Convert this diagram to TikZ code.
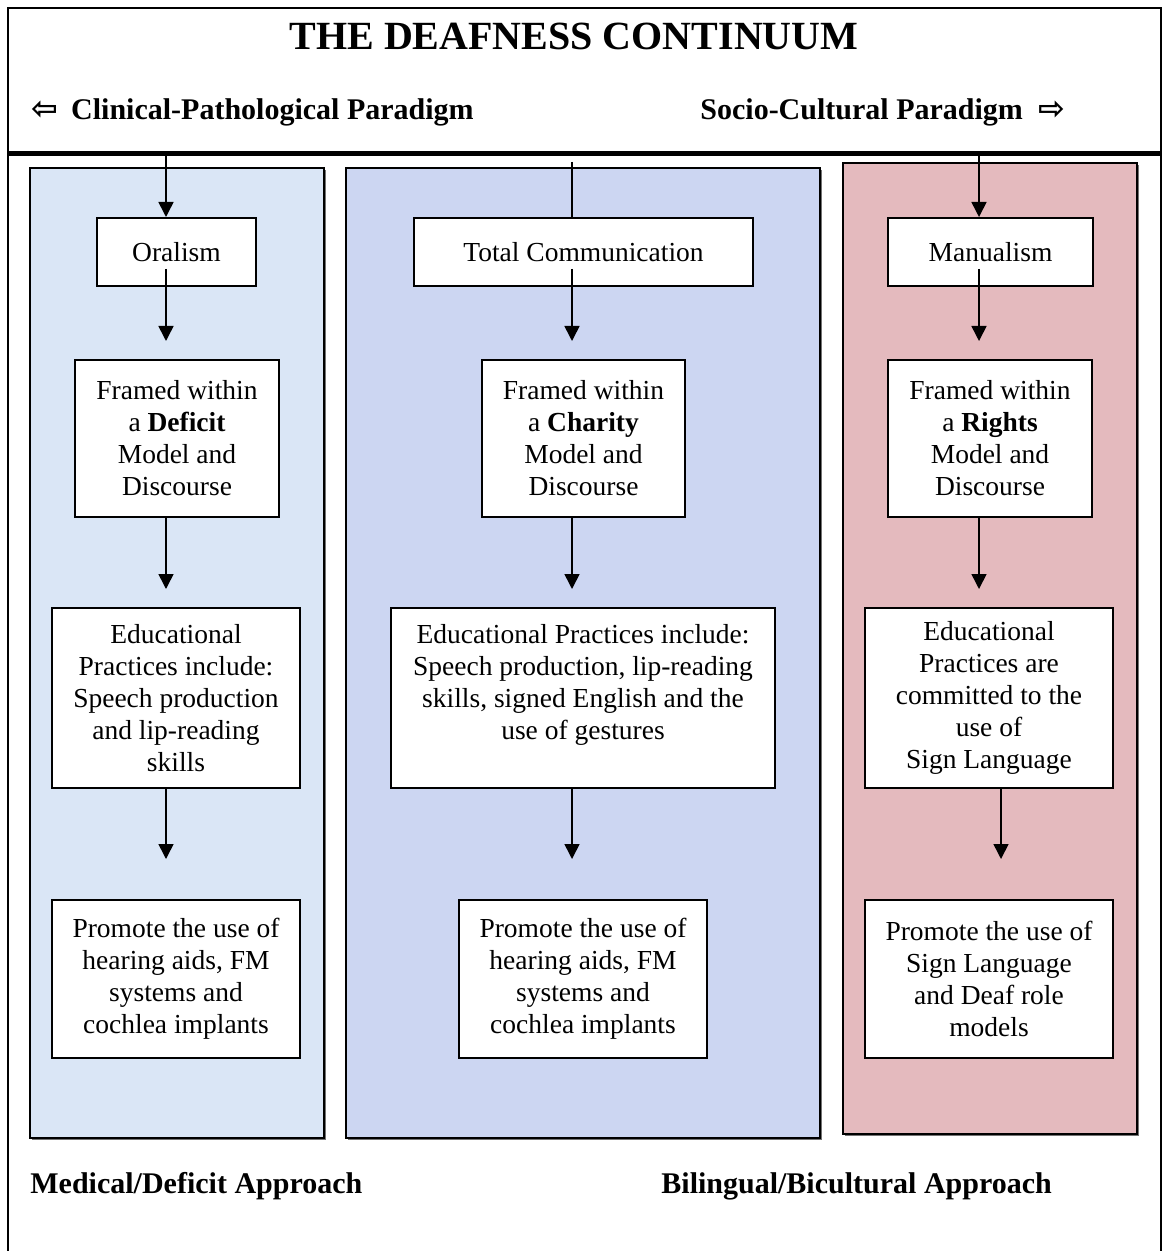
\documentclass[tikz,border=0pt]{standalone}
\usepackage{fontspec}
\setmainfont{Liberation Serif}
\newfontfamily\arrowfont{DejaVu Sans}
\usetikzlibrary{arrows.meta,calc,shadows}
\definecolor{oralblue}{RGB}{218,230,246}
\definecolor{totalblue}{RGB}{204,214,242}
\definecolor{manupink}{RGB}{228,186,190}
\tikzset{
  stage/.style={draw, fill=white, line width=1pt, align=center, inner sep=0pt,
    font=\fontsize{13.75}{16}\selectfont},
  flow/.style={-{Triangle[width=7.5pt,length=7.5pt]}, line width=0.8pt},
  panel/.style={draw, line width=1pt,
    drop shadow={shadow xshift=0.8pt, shadow yshift=-0.8pt, fill=black!55, opacity=1}},
  heading/.style={font=\fontsize{15}{18}\bfseries\selectfont, inner sep=0pt, anchor=base west}
}
\begin{document}
\begin{tikzpicture}[x=0.5pt, y=-0.5pt]
\useasboundingbox (0,0) rectangle (1164,1251);
% Frame and header line
\draw[line width=1.3pt] (8,1260) -- (8,8) -- (1161,8) -- (1161,1260);
\draw[line width=2.5pt] (8,153.5) -- (1160,153.5);
% Title and the two paradigms
\node[font=\fontsize{20}{24}\bfseries\selectfont, inner sep=0pt, anchor=base] (title) at (574,50) {THE DEAFNESS CONTINUUM};
\node[heading] (clin) at (31,120) {{\arrowfont\fontsize{16}{18}\selectfont ⇦}\hspace{6.5pt}Clinical-Pathological Paradigm};
\node[heading] (soci) at (700,120) {Socio-Cultural Paradigm\hspace{8pt}{\arrowfont\fontsize{16}{18}\selectfont ⇨}};
% The three coloured columns
\draw[panel, fill=oralblue] (30,168) rectangle (324,1138);
\draw[panel, fill=totalblue] (346,168) rectangle (820,1138);
\draw[panel, fill=manupink] (843,163) rectangle (1137,1134);
% Left column
\node[stage, minimum width=79.5pt, minimum height=34pt] (oral) at (176.5,252) {Oralism};
\node[stage, minimum width=102pt, minimum height=78.5pt] (defi) at (177,438.5) {Framed within\\ a \textbf{Deficit}\\ Model and\\ Discourse};
\node[stage, minimum width=124pt, minimum height=90pt] (eduA) at (176,698) {Educational\\ Practices include:\\ Speech production\\ and lip-reading\\ skills};
\node[stage, minimum width=124pt, minimum height=79pt] (promA) at (176,979) {Promote the use of\\ hearing aids, FM\\ systems and\\ cochlea implants};
% Middle column
\node[stage, minimum width=169.5pt, minimum height=34pt] (totc) at (583.5,252) {Total Communication};
\node[stage, minimum width=101.5pt, minimum height=78.5pt] (char) at (583.5,438.5) {Framed within\\ a \textbf{Charity}\\ Model and\\ Discourse};
\node[stage, minimum width=192pt, minimum height=90pt] (eduB) at (583,698) {Educational Practices include:\\ Speech production, lip-reading\\ skills, signed English and the\\ use of gestures\\ \mbox{}};
\node[stage, minimum width=124pt, minimum height=79pt] (promB) at (583,979) {Promote the use of\\ hearing aids, FM\\ systems and\\ cochlea implants};
% Right column
\node[stage, minimum width=102.5pt, minimum height=34pt] (manu) at (990.5,252) {Manualism};
\node[stage, minimum width=102pt, minimum height=78.5pt] (righ) at (990,438.5) {Framed within\\ a \textbf{Rights}\\ Model and\\ Discourse};
\node[stage, minimum width=124pt, minimum height=90pt] (eduC) at (989,698) {Educational\\ Practices are\\ committed to the\\ use of\\ Sign Language};
\node[stage, minimum width=124pt, minimum height=79pt] (promC) at (989,979) {Promote the use of\\ Sign Language\\ and Deaf role\\ models};
% Lines down from the header
\coordinate (topA) at (166,153.5);
\coordinate (topB) at (572,162);
\coordinate (topC) at (979,153.5);
\draw[flow] (topA) -- (topA |- oral.north);
\draw[line width=0.8pt] (topB) -- (topB |- totc.north);
\draw[flow] (topC) -- (topC |- manu.north);
% Arrows down each column
\foreach \x/\p/\q/\r in {166/oral/defi/eduA, 572/totc/char/eduB, 979/manu/righ/eduC}
{
  \coordinate (s) at (\x,0);
  \draw[flow, shorten >=9pt] ($(s |- \p.south)+(0,-18)$) -- (s |- \q.north);
  \draw[flow, shorten >=9pt] (s |- \q.south) -- (s |- \r.north);
}
\foreach \x/\p/\q in {166/eduA/promA, 572/eduB/promB, 1001/eduC/promC}
{
  \coordinate (s) at (\x,0);
  \draw[flow, shorten >=20pt] (s |- \p.south) -- (s |- \q.north);
}
% Approaches at the bottom
\node[heading] (medi) at (30,1193) {Medical/Deficit Approach};
\node[heading] (bili) at (661,1193) {Bilingual/Bicultural Approach};
\end{tikzpicture}
\end{document}
